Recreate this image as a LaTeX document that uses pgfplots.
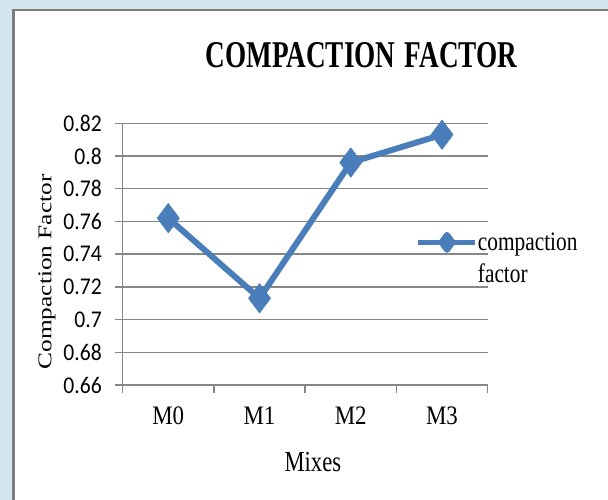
\documentclass[border=0pt]{standalone}
\usepackage{graphicx}
\usepackage{pgfplots}
\pgfplotsset{compat=1.18}
\usepackage{fontspec}
\setmainfont{Liberation Serif}
\newfontfamily\titlefont[FakeStretch=0.72]{Liberation Serif}
\newfontfamily\labfont[FakeStretch=0.78]{Liberation Serif}
\newfontfamily\tickfontx[FakeStretch=0.86]{Liberation Serif}
\newfontfamily\legfont[FakeStretch=0.8]{Liberation Serif}
\newfontfamily\calib[FakeStretch=0.9]{Carlito}
\definecolor{cfblue}{RGB}{74,126,187}
\definecolor{gridgray}{RGB}{134,134,134}
\definecolor{bgblue}{RGB}{212,230,240}
\definecolor{boxgray}{RGB}{125,125,125}
\begin{document}
\begin{tikzpicture}
\useasboundingbox (0,0) rectangle (456pt,375pt);
\fill[bgblue] (0,0) rectangle (456pt,375pt);
\fill[white] (10.1pt,-5pt) rectangle (470pt,367.5pt);
\draw[boxgray, line width=1.9pt] (10.1pt,-5pt) -- (10.1pt,367.5pt) -- (470pt,367.5pt);
\node[anchor=base, inner sep=0pt, font=\titlefont\bfseries\fontsize{28.35}{30}\selectfont] at (271.1pt,324pt) {COMPACTION\hspace{2pt} FACTOR};
\begin{axis}[
  at={(92pt,86.25pt)}, anchor=south west, scale only axis,
  width=273.75pt, height=196.3pt,
  xmin=-0.5, xmax=3.5, ymin=0.66, ymax=0.82,
  xtick={-0.5,0.5,1.5,2.5,3.5}, xticklabels={},
  extra x ticks={0,1,2,3}, extra x tick labels={M0,M1,M2,M3},
  extra x tick style={major tick length=0pt,
    tick label style={anchor=base, yshift=-30pt, inner sep=0pt,
      font=\tickfontx\fontsize{20}{22}\selectfont}},
  ytick={0.66,0.68,0.70,0.72,0.74,0.76,0.78,0.80,0.82},
  yticklabels={0.66,0.68,0.7,0.72,0.74,0.76,0.78,0.8,0.82},
  yticklabel style={font=\calib\fontsize{18}{20}\selectfont, anchor=east, inner sep=0pt, xshift=-9.5pt},
  /pgf/number format/assume math mode=true,
  tick align=outside, major tick length=6pt,
  tick style={gridgray, line width=1pt},
  ymajorgrids, grid style={gridgray, line width=1pt},
  axis x line*=bottom, axis y line*=left,
  axis line style={gridgray, line width=1pt, -},
  xlabel={Mixes},
  xlabel style={at={(axis description cs:0.521,-0.331)}, anchor=base, inner sep=0pt,
    font=\labfont\fontsize{21.75}{24}\selectfont},
  ylabel={\scalebox{1}[0.77]{Compaction Factor}},
  ylabel style={at={(axis description cs:-0.1956,0.432)}, anchor=base, inner sep=0pt,
    font=\fontsize{19}{21}\selectfont},
  legend style={at={(axis description cs:0.8035,0.585)}, anchor=north west,
    draw=none, fill=none, inner sep=0pt, outer sep=0pt,
    font=\legfont\fontsize{20}{24}\selectfont,
    nodes={inner sep=0pt, align=left}, column sep=0pt},
  legend image code/.code={
    \draw[cfblue, line width=3.75pt] (0pt,12pt) -- (42.75pt,12pt);
    \fill[cfblue] (21.4pt,17.6pt) -- (25.5pt,12pt) -- (21.4pt,6.4pt) -- (17.3pt,12pt) -- cycle;},
]
\addplot[cfblue, line width=4.5pt, line join=round, mark=diamond*, mark size=11pt,
  mark options={solid, line width=0.5pt, fill=cfblue}]
  coordinates {(0,0.762) (1,0.713) (2,0.796) (3,0.813)};
\addlegendentry{compaction\\factor}
\end{axis}
\end{tikzpicture}
\end{document}
